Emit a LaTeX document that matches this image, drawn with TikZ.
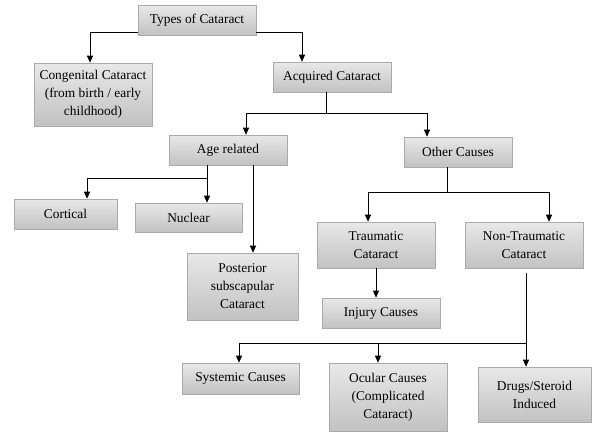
\documentclass[tikz,border=0pt]{standalone}
\usepackage{fontspec}
\setmainfont{Liberation Serif}
\usetikzlibrary{arrows.meta}
\definecolor{boxtop}{RGB}{232,232,232}
\definecolor{boxbot}{RGB}{194,194,194}
\definecolor{boxline}{RGB}{170,170,170}
\tikzset{
  box/.style={draw=boxline, line width=0.6pt, top color=boxtop, bottom color=boxbot,
    inner sep=0pt, align=center, font=\fontsize{13.4}{18}\selectfont},
  arr/.style={line width=0.8pt, -{Triangle[width=6pt,length=7pt]}},
  ln/.style={line width=0.8pt}
}
\begin{document}
\begin{tikzpicture}[x=1pt,y=-1pt]
\useasboundingbox (0,0) rectangle (593,432);
\node[box, minimum width=118pt, minimum height=30pt] (types) at (197,20) {Types of Cataract};
\node[box, minimum width=118pt, minimum height=63pt] (cong) at (93,94.5) {Congenital Cataract\\(from birth / early\\childhood)};
\node[box, minimum width=118pt, minimum height=30pt] (acq) at (332,77) {Acquired Cataract};
\node[box, minimum width=118pt, minimum height=30pt] (age) at (228,150) {Age related};
\node[box, minimum width=108pt, minimum height=30pt] (other) at (458,152) {Other Causes};
\node[box, minimum width=103pt, minimum height=30pt] (cort) at (65.5,214) {Cortical};
\node[box, minimum width=107pt, minimum height=29pt] (nuc) at (188.5,217.5) {Nuclear};
\node[box, minimum width=111pt, minimum height=67pt] (post) at (242.5,286.5) {Posterior\\subscapular\\Cataract};
\node[box, minimum width=118pt, minimum height=46pt] (trau) at (376,245) {Traumatic\\Cataract};
\node[box, minimum width=118pt, minimum height=46pt] (nont) at (524,245) {Non-Traumatic\\Cataract};
\node[box, minimum width=118pt, minimum height=30pt] (inj) at (381,313) {Injury Causes};
\node[box, minimum width=117pt, minimum height=31pt] (sys) at (240.5,378.5) {Systemic Causes};
\node[box, minimum width=118pt, minimum height=68pt] (ocu) at (388,397) {Ocular Causes\\(Complicated\\Cataract)};
\node[box, minimum width=113pt, minimum height=55pt] (drug) at (534.5,394.5) {Drugs/Steroid\\Induced};

% Types of Cataract
\draw[arr] ([yshift=3pt]types.south west) -| ([xshift=-3pt]cong.north);
\draw[arr] ([yshift=3pt]types.south east) -| ([xshift=-30pt]acq.north);
% Acquired
\draw[ln] ([xshift=-6pt]acq.south) -- ++(0,21) coordinate (j1);
\draw[arr] (j1) -| ([xshift=18pt]age.north);
\draw[arr] (j1) -| ([xshift=-31pt]other.north);
% Age related
\draw[arr] ([xshift=-21pt]age.south) -- ([xshift=18.5pt]nuc.north);
\coordinate (j2) at (207,178);
\draw[arr] (j2) -| ([xshift=21.5pt]cort.north);
\draw[arr] ([xshift=25pt]age.south) -- ([xshift=10.5pt]post.north);
% Other causes
\draw[ln] ([xshift=-11pt]other.south) -- ++(0,25) coordinate (j3);
\draw[arr] (j3) -| ([xshift=-8pt]trau.north);
\draw[arr] (j3) -| ([xshift=25pt]nont.north);
% Traumatic
\draw[arr] (trau.south) -- (trau.south |- inj.north);
% Non-traumatic
\draw[arr] ([xshift=2pt,yshift=-5pt]nont.south) -- ([xshift=-8.5pt]drug.north);
\coordinate (j4) at (526,343);
\draw[arr] (j4) -| ([xshift=-1.5pt]sys.north);
\draw[arr] ([xshift=-10pt]ocu.north |- j4) -- ([xshift=-10pt]ocu.north);
\end{tikzpicture}
\end{document}
